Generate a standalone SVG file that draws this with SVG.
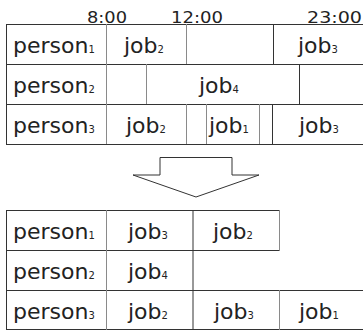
<svg xmlns="http://www.w3.org/2000/svg" width="363" height="334" viewBox="0 0 363 334">
  <style>
    .ln { stroke: #333; stroke-width: 1; fill: none; }
    .lg { stroke: #8a8a8a; stroke-width: 1; fill: none; }
    .t { font-family: "DejaVu Sans", "Liberation Sans", sans-serif; font-size: 22px; fill: #222; }
    .s { font-size: 10px; }
    .tm { font-family: "DejaVu Sans", "Liberation Sans", sans-serif; font-size: 16px; fill: #222; }
  </style>
  <rect width="363" height="334" fill="#fff"/>

  <!-- time axis -->
  <g id="time-axis">
    <text class="tm" x="87" y="23" textLength="40" lengthAdjust="spacingAndGlyphs">8:00</text>
    <text class="tm" x="171" y="23" textLength="52" lengthAdjust="spacingAndGlyphs">12:00</text>
    <text class="tm" x="307" y="23" textLength="55" lengthAdjust="spacingAndGlyphs">23:00</text>
  </g>

  <g id="connectors">
    <!-- schedule before reordering -->
    <g id="grid-before">
      <line class="ln" x1="6" y1="24.5" x2="363" y2="24.5"/>
      <line class="ln" x1="6" y1="64.5" x2="363" y2="64.5"/>
      <line class="ln" x1="6" y1="104.5" x2="363" y2="104.5"/>
      <line class="ln" x1="6" y1="144.5" x2="363" y2="144.5"/>
      <line class="ln" x1="6.5" y1="24" x2="6.5" y2="145"/>
      <line class="lg" x1="106.5" y1="24" x2="106.5" y2="144"/>
      <!-- row 1 -->
      <line class="lg" x1="186.5" y1="24" x2="186.5" y2="64"/>
      <line class="ln" x1="273.5" y1="24" x2="273.5" y2="64"/>
      <!-- row 2 -->
      <line class="lg" x1="146.5" y1="64" x2="146.5" y2="104"/>
      <line class="ln" x1="299.5" y1="64" x2="299.5" y2="104"/>
      <!-- row 3 -->
      <line class="lg" x1="186.5" y1="104" x2="186.5" y2="144"/>
      <line class="lg" x1="206.5" y1="104" x2="206.5" y2="144"/>
      <line class="lg" x1="259.5" y1="104" x2="259.5" y2="144"/>
      <line class="ln" x1="272.5" y1="104" x2="272.5" y2="144"/>
    </g>

    <!-- transition arrow -->
    <polygon id="arrow" class="ln" points="160,157.5 232,157.5 232,175 259,175 196,197 133,175 160,175"/>

    <!-- schedule after reordering -->
    <g id="grid-after">
      <line class="ln" x1="6" y1="210.5" x2="280" y2="210.5"/>
      <line class="ln" x1="6" y1="250.5" x2="280" y2="250.5"/>
      <line class="ln" x1="6" y1="290.5" x2="363" y2="290.5"/>
      <line class="ln" x1="6" y1="329.5" x2="363" y2="329.5"/>
      <line class="ln" x1="6.5" y1="210" x2="6.5" y2="330"/>
      <line class="lg" x1="106.5" y1="210" x2="106.5" y2="330"/>
      <line class="ln" x1="193" y1="210" x2="193" y2="330"/>
      <line class="lg" x1="279.5" y1="210" x2="279.5" y2="251"/>
      <line class="lg" x1="279.5" y1="290" x2="279.5" y2="330"/>
    </g>
  </g>

  <!-- labels, before -->
  <g id="p1-before"><text class="t" x="13" y="53">person<tspan class="s">1</tspan></text></g>
  <g id="p1-job2"><text class="t" x="124" y="53">job<tspan class="s">2</tspan></text></g>
  <g id="p1-job3"><text class="t" x="298" y="53">job<tspan class="s">3</tspan></text></g>
  <g id="p2-before"><text class="t" x="13" y="93">person<tspan class="s">2</tspan></text></g>
  <g id="p2-job4"><text class="t" x="199" y="93">job<tspan class="s">4</tspan></text></g>
  <g id="p3-before"><text class="t" x="13" y="133">person<tspan class="s">3</tspan></text></g>
  <g id="p3-job2"><text class="t" x="126" y="133">job<tspan class="s">2</tspan></text></g>
  <g id="p3-job1"><text class="t" x="209" y="133">job<tspan class="s">1</tspan></text></g>
  <g id="p3-job3"><text class="t" x="299" y="133">job<tspan class="s">3</tspan></text></g>

  <!-- labels, after -->
  <g id="p1-after"><text class="t" x="13" y="239">person<tspan class="s">1</tspan></text></g>
  <g id="p1-a-job3"><text class="t" x="128" y="239">job<tspan class="s">3</tspan></text></g>
  <g id="p1-a-job2"><text class="t" x="213" y="239">job<tspan class="s">2</tspan></text></g>
  <g id="p2-after"><text class="t" x="13" y="279">person<tspan class="s">2</tspan></text></g>
  <g id="p2-a-job4"><text class="t" x="128" y="279">job<tspan class="s">4</tspan></text></g>
  <g id="p3-after"><text class="t" x="13" y="319">person<tspan class="s">3</tspan></text></g>
  <g id="p3-a-job2"><text class="t" x="128" y="319">job<tspan class="s">2</tspan></text></g>
  <g id="p3-a-job3"><text class="t" x="214" y="319">job<tspan class="s">3</tspan></text></g>
  <g id="p3-a-job1"><text class="t" x="299" y="319">job<tspan class="s">1</tspan></text></g>
</svg>
